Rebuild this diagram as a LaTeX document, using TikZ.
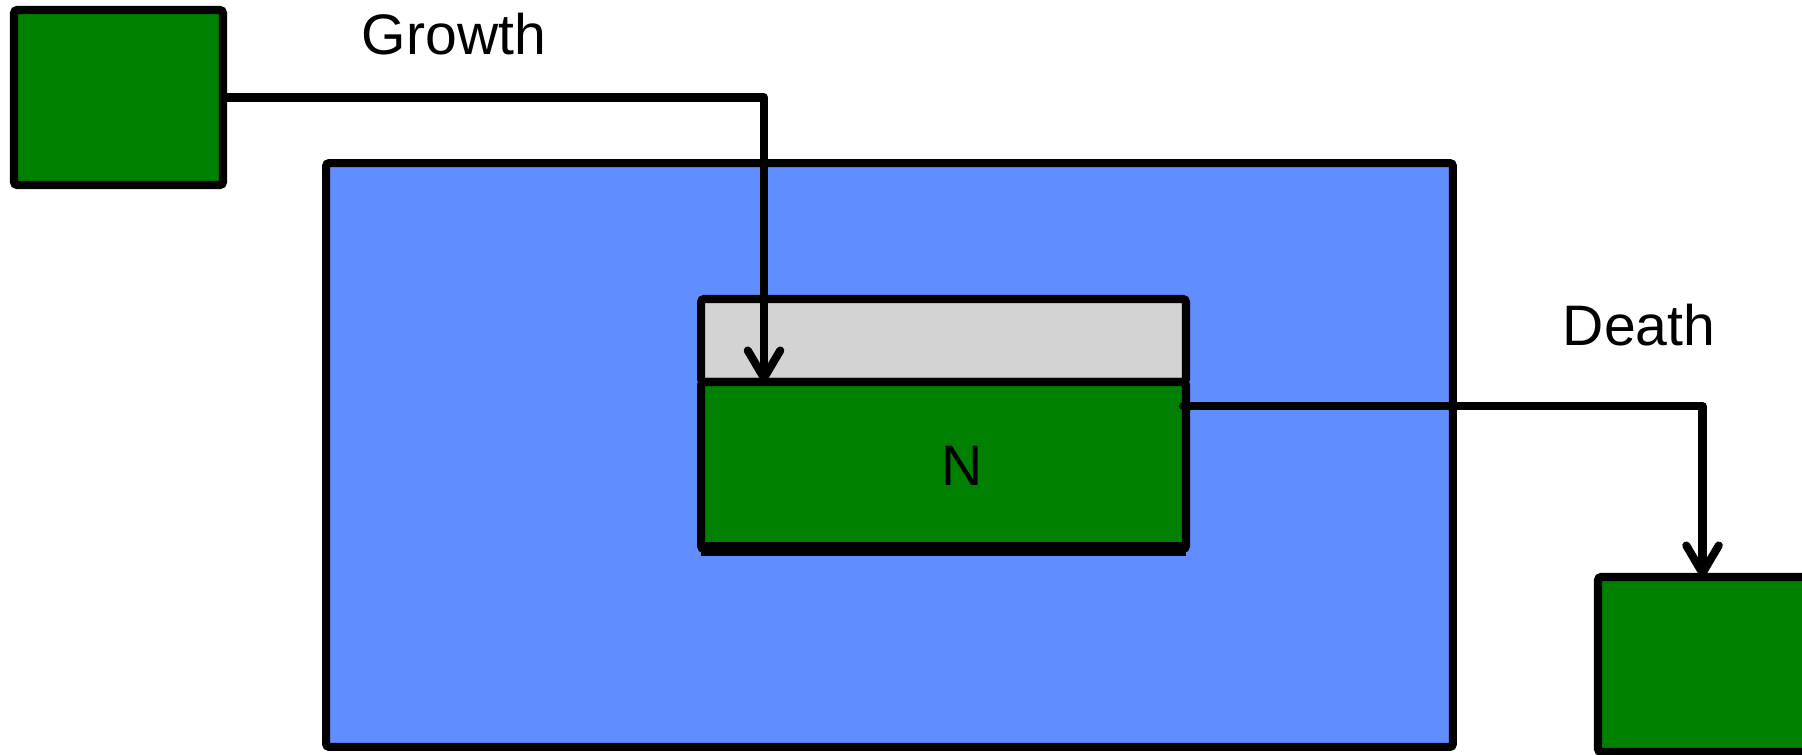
\documentclass[tikz,border=0pt]{standalone}
\usepackage{fontspec}
\setmainfont{Liberation Sans}
\usepackage{tikz}
\usetikzlibrary{arrows.meta}
\definecolor{poolblue}{HTML}{618EFF}
\definecolor{stockgreen}{HTML}{008000}
\definecolor{capgray}{HTML}{D3D3D3}
\tikzset{
  >={Straight Barb[length=5.5mm,width=6.5mm,round]},
  flow/.style={draw=black, ->, line width=4.6pt, line cap=round, line join=round},
  stock/.style={draw=black, line width=4.6pt, rounded corners=0.6mm,
    inner sep=0pt, outer sep=0pt},
  lbl/.style={font=\fontsize{32.5}{38}\selectfont, anchor=base, inner sep=0pt}
}

\begin{document}
\begin{tikzpicture}[x=0.02cm,y=-0.02cm]
  \clip (0,0) rectangle (1802,754);

  \node[stock, fill=stockgreen, minimum width=4.18cm, minimum height=3.5cm] (source) at (118.5,97.5) {};
  \node[stock, fill=poolblue, minimum width=22.54cm, minimum height=11.68cm] (pool) at (889.5,455) {};
  \node[stock, fill=capgray, minimum width=9.7cm, minimum height=1.66cm] (cap) at (943.5,340.5) {};
  \node[stock, fill=stockgreen, minimum width=9.7cm, minimum height=3.34cm] (stockN) at (943.5,465.5) {};
  \draw[line width=8pt] (stockN.south west) -- (stockN.south east);
  \node[stock, fill=stockgreen, minimum width=4.18cm, minimum height=3.5cm] (sink) at (1702.5,664.5) {};

  \node[lbl] (growth) at (454,54) {Growth};
  \node[lbl] (death) at (1639,345) {Death};
  \node[lbl] (nlabel) at (962,485) {N};

  \coordinate (growthin) at (764,382);
  \coordinate (deathout) at (1183,406);
  \draw[flow] (source.east) -| (growthin);
  \draw[flow] (deathout) -| (sink.north);
\end{tikzpicture}
\end{document}
